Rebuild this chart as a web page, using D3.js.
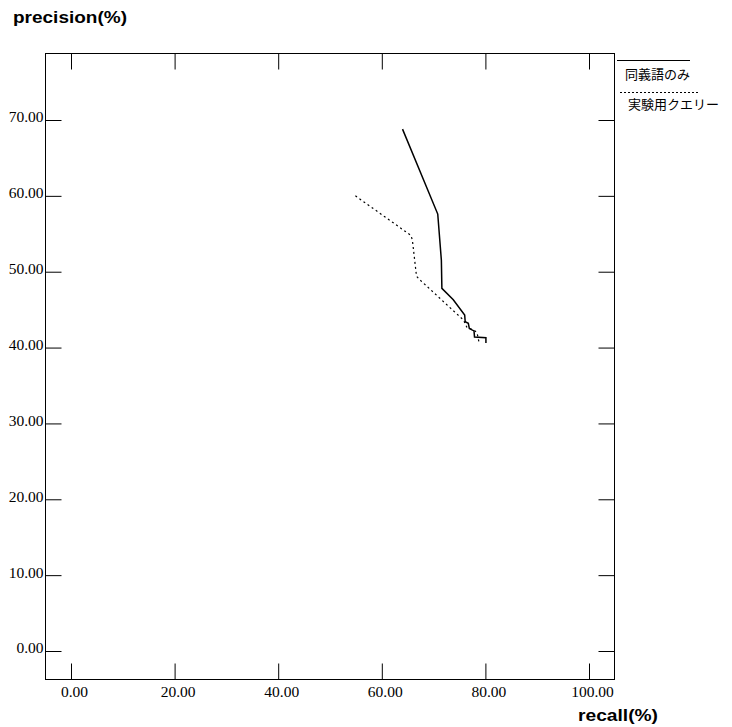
<!DOCTYPE html>
<html lang="ja">
<head>
<meta charset="UTF-8">
<title>precision / recall</title>
<script src="https://cdn.jsdelivr.net/npm/d3@7"></script>
<style>
    body { margin: 0; background: #fff; }
    svg { display: block; }
    .tick text { font-family: "Liberation Serif", "DejaVu Serif", serif; font-size: 15.5px; fill: #000; }
    .tick line { stroke: #000; }
    .title { font-family: "Liberation Sans", Arial, sans-serif; font-weight: bold; font-size: 17px; }
    .legend text { font-family: "Noto Sans CJK JP", sans-serif; font-size: 13px; }
</style>
</head>
<body>
<svg id="svg" width="732" height="727"></svg>
<script>
    // values
    const xTicks = [0, 20, 40, 60, 80, 100];
    const yTicks = [0, 10, 20, 30, 40, 50, 60, 70];
    const seriesNames = ["同義語のみ", "実験用クエリー"];

    // 同義語のみ (solid)
    const synRecall    = [64.0, 70.8, 71.5, 71.6, 73.8, 76.0, 76.1, 76.7, 76.9, 77.8, 77.9, 80.1, 80.1];
    const synPrecision = [68.8, 57.6, 51.5, 47.8, 46.3, 44.3, 43.4, 43.2, 42.5, 42.2, 41.4, 41.3, 40.6];

    // 実験用クエリー (dashed)
    const expRecall    = [54.9, 65.6, 65.9, 66.7, 67.4, 75.8, 76.4, 78.0, 78.4, 78.8];
    const expPrecision = [60.0, 54.8, 54.2, 49.4, 48.9, 43.6, 42.7, 42.2, 41.9, 40.6];

    const svg = d3.select("#svg");

    const frame = { left: 45.5, right: 614.5, top: 53.5, bottom: 679.5 };
    const tickLen = 16;

    const x = d3.scaleLinear().domain([0, 100]).range([71, 589]);
    const y = d3.scaleLinear().domain([0, 70]).range([651, 120]);
    const fmt = d3.format(".2f");

    // frame
    svg.append("rect")
        .attr("x", frame.left)
        .attr("y", frame.top)
        .attr("width", frame.right - frame.left)
        .attr("height", frame.bottom - frame.top)
        .attr("fill", "none")
        .attr("stroke", "#000")
        .attr("stroke-width", 1);

    // axes, ticks pointing inside
    const bottom = svg.append("g")
        .attr("transform", `translate(0,${frame.bottom})`)
        .call(d3.axisBottom(x).tickValues(xTicks).tickFormat(fmt).tickSize(-tickLen).tickPadding(6));
    bottom.selectAll("text").attr("dx", "3");

    svg.append("g")
        .attr("transform", `translate(0,${frame.top})`)
        .call(d3.axisTop(x).tickValues(xTicks).tickFormat("").tickSize(-tickLen));

    const left = svg.append("g")
        .attr("transform", `translate(${frame.left},0)`)
        .call(d3.axisLeft(y).tickValues(yTicks).tickFormat(fmt).tickSize(-tickLen).tickPadding(2));
    left.selectAll("text").attr("dy", "0.12em");

    svg.append("g")
        .attr("transform", `translate(${frame.right},0)`)
        .call(d3.axisRight(y).tickValues(yTicks).tickFormat("").tickSize(-tickLen));

    svg.selectAll(".domain").remove();

    // lines
    const line = d3.line().x(d => x(d[0])).y(d => y(d[1]));

    svg.append("path")
        .datum(d3.zip(synRecall, synPrecision))
        .attr("d", line)
        .attr("fill", "none")
        .attr("stroke", "#000")
        .attr("stroke-width", 1.5);

    svg.append("path")
        .datum(d3.zip(expRecall, expPrecision))
        .attr("d", line)
        .attr("fill", "none")
        .attr("stroke", "#000")
        .attr("stroke-width", 1.2)
        .attr("stroke-dasharray", "2,3");

    // axis titles
    svg.append("text")
        .attr("class", "title")
        .attr("x", 13)
        .attr("y", 23)
        .attr("textLength", 114)
        .attr("lengthAdjust", "spacingAndGlyphs")
        .text("precision(%)");

    svg.append("text")
        .attr("class", "title")
        .attr("x", 578)
        .attr("y", 721)
        .attr("textLength", 80)
        .attr("lengthAdjust", "spacingAndGlyphs")
        .text("recall(%)");

    // legend
    const legend = svg.append("g").attr("class", "legend");
    legend.append("line")
        .attr("x1", 617).attr("x2", 690)
        .attr("y1", 60.5).attr("y2", 60.5)
        .attr("stroke", "#000").attr("stroke-width", 1.2);
    legend.append("text")
        .attr("x", 625).attr("y", 79)
        .text(seriesNames[0]);
    legend.append("line")
        .attr("x1", 620).attr("x2", 700)
        .attr("y1", 92.5).attr("y2", 92.5)
        .attr("stroke", "#000").attr("stroke-width", 1)
        .attr("stroke-dasharray", "2,2");
    legend.append("text")
        .attr("x", 628).attr("y", 109)
        .text(seriesNames[1]);
</script>
</body>
</html>
